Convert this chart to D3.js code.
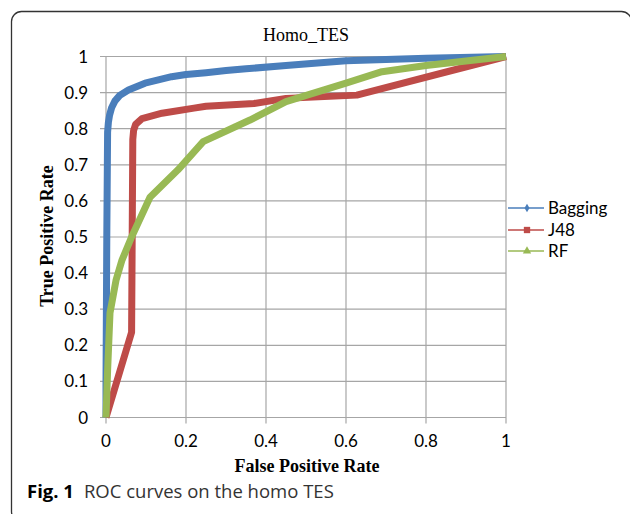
<!DOCTYPE html>
<html>
<head>
  <script src="https://d3js.org/d3.v7.min.js"></script>
  <style>
    body { margin: 0; background: #fff; }
    svg { display: block; }
  </style>
</head>
<body>
  <script>
    // ROC points: [false positive rate, true positive rate]
    const bagging = [[0, 0], [0, 0.1], [0.002, 0.5], [0.004, 0.79], [0.006, 0.818], [0.009, 0.838],
      [0.014, 0.858], [0.0225, 0.877], [0.035, 0.893], [0.056, 0.907], [0.0975, 0.926],
      [0.164, 0.944], [0.2, 0.95], [0.25, 0.955], [0.3, 0.961], [0.35, 0.966], [0.45, 0.975],
      [0.6, 0.988], [0.8, 0.995], [1, 1]];
    const j48 = [[0, 0], [0.064, 0.236], [0.067, 0.77], [0.069, 0.795], [0.074, 0.812], [0.09, 0.828],
      [0.14, 0.843], [0.22, 0.857], [0.25, 0.862], [0.37, 0.87], [0.45, 0.884], [0.627, 0.893], [1, 1]];
    const rf = [[0, 0], [0.004, 0.13], [0.01, 0.29], [0.025, 0.38], [0.04, 0.436], [0.064, 0.5],
      [0.11, 0.61], [0.18, 0.686], [0.243, 0.764], [0.36, 0.824], [0.45, 0.875], [0.6, 0.926],
      [0.69, 0.958], [0.8, 0.975], [1, 1]];
    const seriesNames = ["Bagging", "J48", "RF"];
    const seriesColors = ["#4a7ebb", "#be4b48", "#98b954"];
    const xTicks = [0, 0.2, 0.4, 0.6, 0.8, 1];
    const yTicks = [0, 0.1, 0.2, 0.3, 0.4, 0.5, 0.6, 0.7, 0.8, 0.9, 1];

    const width = 630, height = 514;
    const svg = d3.select("body").append("svg")
      .attr("width", width).attr("height", height);

    // frame round the figure (runs past the right and bottom edges)
    svg.append("rect")
      .attr("x", 11.5).attr("y", 11.5)
      .attr("width", 620).attr("height", 510)
      .attr("rx", 10)
      .attr("fill", "none").attr("stroke", "#333").attr("stroke-width", 1.3);

    const x = d3.scaleLinear().domain([0, 1]).range([106, 506]);
    const y = d3.scaleLinear().domain([0, 1]).range([417.5, 56.5]);
    const gridColor = "#a6a6a6";

    // horizontal grid + ticks on the left
    svg.append("g")
      .selectAll("line").data(yTicks).join("line")
      .attr("x1", x(0) - 6).attr("x2", x(1))
      .attr("y1", d => y(d)).attr("y2", d => y(d))
      .attr("stroke", gridColor).attr("stroke-width", 1.2);

    // vertical grid + ticks under the axis
    svg.append("g")
      .selectAll("line").data(xTicks).join("line")
      .attr("x1", d => x(d)).attr("x2", d => x(d))
      .attr("y1", y(1)).attr("y2", y(0) + 6)
      .attr("stroke", gridColor).attr("stroke-width", 1.2);

    const tickFont = "Lato, 'Open Sans', sans-serif";
    const serif = "'Liberation Serif', 'Times New Roman', serif";

    svg.append("g")
      .selectAll("text").data(yTicks).join("text")
      .attr("x", 88).attr("y", d => y(d) + 6)
      .attr("text-anchor", "end")
      .attr("font-family", tickFont).attr("font-size", 17)
      .text(d => d3.format("")(d));

    svg.append("g")
      .selectAll("text").data(xTicks).join("text")
      .attr("x", d => x(d)).attr("y", 447)
      .attr("text-anchor", "middle")
      .attr("font-family", tickFont).attr("font-size", 17)
      .text(d => d3.format("")(d));

    // curves
    const line = d3.line().x(d => x(d[0])).y(d => y(d[1]));
    [bagging, j48, rf].forEach((pts, i) => {
      svg.append("path")
        .datum(pts)
        .attr("d", line)
        .attr("fill", "none")
        .attr("stroke", seriesColors[i])
        .attr("stroke-width", 7)
        .attr("stroke-linejoin", "round");
    });

    // titles
    svg.append("text")
      .attr("x", 306).attr("y", 41)
      .attr("text-anchor", "middle")
      .attr("font-family", serif)
      .attr("font-size", 18)
      .text("Homo_TES");

    svg.append("text")
      .attr("transform", "translate(53,236) rotate(-90)")
      .attr("text-anchor", "middle")
      .attr("font-family", serif)
      .attr("font-weight", "bold")
      .attr("font-size", 18)
      .text("True Positive Rate");

    svg.append("text")
      .attr("x", 307).attr("y", 472)
      .attr("text-anchor", "middle")
      .attr("font-family", serif)
      .attr("font-weight", "bold")
      .attr("font-size", 18)
      .text("False Positive Rate");

    // legend
    const legend = svg.append("g");
    const legendY = [208, 230, 251];
    seriesNames.forEach((name, i) => {
      const g = legend.append("g").attr("transform", `translate(0,${legendY[i]})`);
      g.append("line")
        .attr("x1", 508).attr("x2", 544).attr("y1", 0).attr("y2", 0)
        .attr("stroke", seriesColors[i]).attr("stroke-width", 1.5);
      const sym = [d3.symbolDiamond, d3.symbolSquare, d3.symbolTriangle][i];
      const size = [22, 40, 30][i];
      g.append("path")
        .attr("transform", "translate(527,0)")
        .attr("d", d3.symbol().type(sym).size(size))
        .attr("fill", seriesColors[i]);
      g.append("text")
        .attr("x", 548).attr("y", 6)
        .attr("font-family", tickFont).attr("font-size", 17)
        .text(name);
    });

    // caption
    const cap = svg.append("text")
      .attr("x", 27).attr("y", 498)
      .attr("font-family", "'Open Sans', 'Noto Sans', sans-serif")
      .attr("font-size", 18.5);
    cap.append("tspan").attr("font-weight", "bold").text("Fig. 1");
    cap.append("tspan").attr("dx", 10).attr("fill", "#333").text("ROC curves on the homo TES");
  </script>
</body>
</html>
